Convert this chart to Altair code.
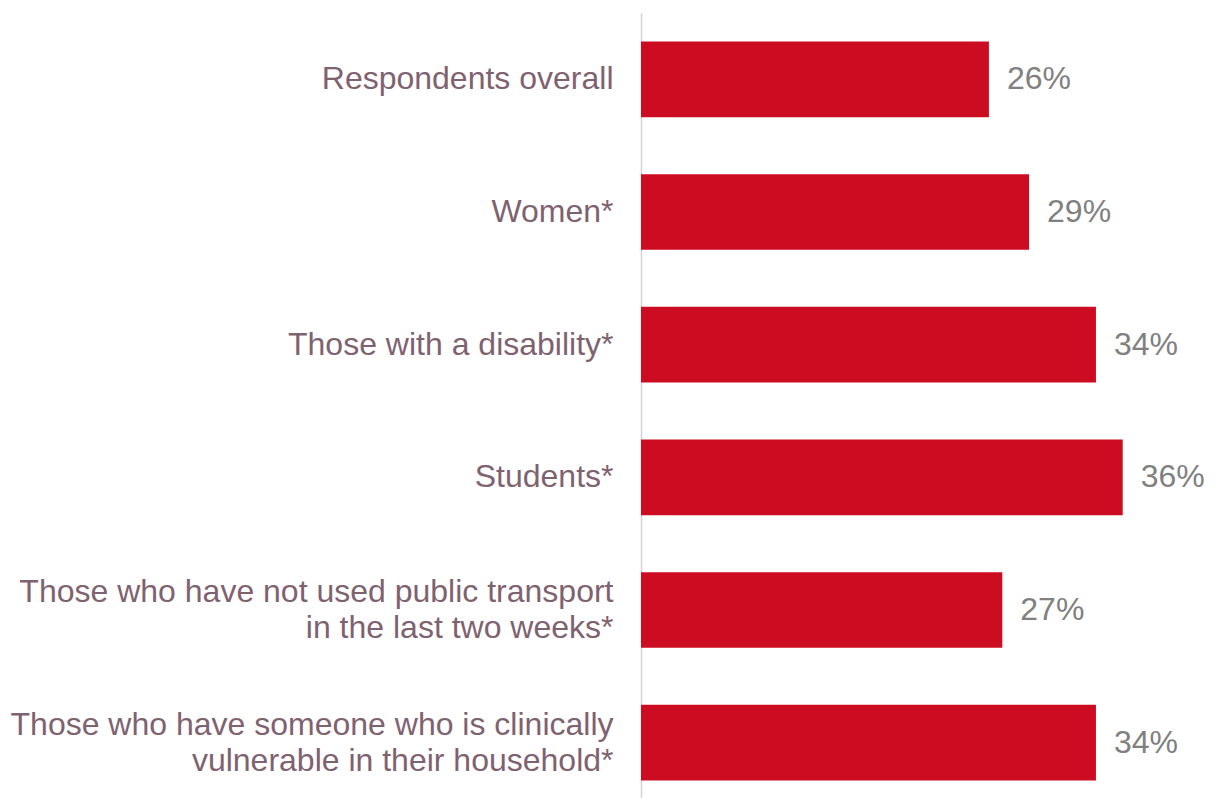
import altair as alt
import pandas as pd

categories = [
    "Respondents overall",
    "Women*",
    "Those with a disability*",
    "Students*",
    "Those who have not used public transport|in the last two weeks*",
    "Those who have someone who is clinically|vulnerable in their household*",
]
values = [26, 29, 34, 36, 27, 34]
value_labels = ["26%", "29%", "34%", "36%", "27%", "34%"]

df = pd.DataFrame({"category": categories, "value": values, "label": value_labels})

y = alt.Y(
    "category:N",
    sort=categories,
    title=None,
    scale=alt.Scale(paddingInner=0.43, paddingOuter=0.215),
    axis=alt.Axis(
        labelExpr="split(datum.label, '|')",
        labelFont="Liberation Sans",
        labelFontSize=32,
        labelColor="#7f6270",
        labelLineHeight=36,
        labelPadding=28,
        labelLimit=800,
        labelOffset={"condition": {"test": "indexof(datum.label, '|') >= 0", "value": -18}, "value": 0},
        ticks=False,
        domainColor="#d6d3d5",
        domainWidth=1.5,
    ),
)
x = alt.X("value:Q", scale=alt.Scale(domain=[0, 42]), axis=None)

bars = alt.Chart(df).mark_bar(color="#cc0c20").encode(x=x, y=y)
text = alt.Chart(df).mark_text(
    align="left", baseline="middle", dx=18, font="Liberation Sans", fontSize=32, color="#808080"
).encode(x=x, y=y, text="label:N")

chart = (
    (bars + text)
    .properties(width=562, height=796, autosize=alt.AutoSizeParams(type="none"),
                padding={"left": 633, "top": 5, "right": 4, "bottom": 0})
    .configure_view(stroke=None)
)
chart.save("out.html", embed_options={"renderer": "svg", "actions": False})
